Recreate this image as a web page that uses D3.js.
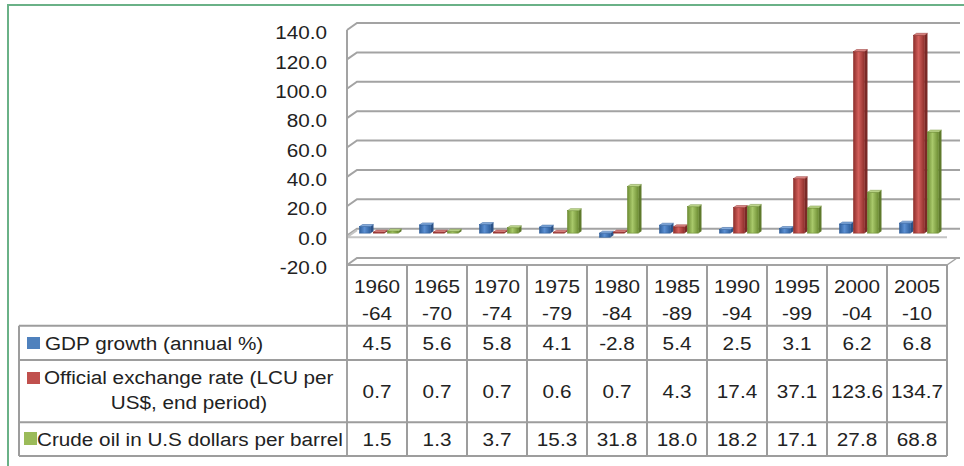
<!DOCTYPE html>
<html>
<head>
<meta charset="utf-8">
<script src="https://cdn.jsdelivr.net/npm/d3@7"></script>
<style>
  body { margin: 0; background: #fff; }
  svg text { font-family: "Liberation Sans", Arial, sans-serif; fill: #222; }
</style>
</head>
<body>
<div id="canvas"></div>
<script>
const width = 964;
const height = 466;

// data
const periodFrom = ["1960", "1965", "1970", "1975", "1980", "1985", "1990", "1995", "2000", "2005"];
const periodTo = ["-64", "-70", "-74", "-79", "-84", "-89", "-94", "-99", "-04", "-10"];
const gdpGrowth = [4.5, 5.6, 5.8, 4.1, -2.8, 5.4, 2.5, 3.1, 6.2, 6.8];
const exchangeRate = [0.7, 0.7, 0.7, 0.6, 0.7, 4.3, 17.4, 37.1, 123.6, 134.7];
const crudeOil = [1.5, 1.3, 3.7, 15.3, 31.8, 18.0, 18.2, 17.1, 27.8, 68.8];
const seriesNames = ["GDP growth (annual %)", "Official exchange rate (LCU per US$, end period)", "Crude oil in U.S dollars per barrel"];
const yTicks = [-20, 0, 20, 40, 60, 80, 100, 120, 140];

const seriesValues = [gdpGrowth, exchangeRate, crudeOil];
const colors = [
    {mid: "#5b8fd2", edge: "#2f5f9c", side: "#2b5288", top: "#86acdc"},
    {mid: "#d25f5b", edge: "#8f2f2c", side: "#7a2926", top: "#de8a87"},
    {mid: "#a9c96b", edge: "#6d8d33", side: "#5f7a2c", top: "#c2da92"}
];

const svg = d3.select("#canvas")
    .append("svg")
    .attr("width", width)
    .attr("height", height);

// 3d offsets
const depthX = 10, depthY = -7;
const barX = 3.5, barY = -2.5, barSide = 3, barSideY = -2;

const x = d3.scaleBand().domain(periodFrom).range([347, 947]);
const xs = d3.scaleBand().domain([0, 1, 2]).range([0, x.bandwidth()]).paddingOuter(0.643);
const y = d3.scaleLinear().domain([-20, 140]).range([265, 30]);
const fmt = v => d3.format(".1f")(v).replace("\u2212", "-");
const gridColor = "#a3a3a3";

// stretched text like the picture
function label(g, tx, ty, str, anchor) {
    return g.append("text")
        .attr("transform", `translate(${tx},${ty}) scale(1.09,1)`)
        .attr("text-anchor", anchor)
        .attr("dominant-baseline", "central")
        .style("font-size", "19px")
        .text(str);
}

// outer green frame
svg.append("path")
    .attr("d", `M8,${height} L8,5 L${width},5`)
    .attr("fill", "none")
    .attr("stroke", "#6ab187")
    .attr("stroke-width", 2);

// back wall gridlines + side wall diagonals
const grid = svg.append("g");
yTicks.forEach(t => {
    grid.append("path")
        .attr("d", `M${x.range()[0]},${y(t)} L${x.range()[0] + depthX},${y(t) + depthY} L${x.range()[1] + depthX + 3},${y(t) + depthY}`)
        .attr("fill", "none")
        .attr("stroke", gridColor)
        .attr("stroke-width", 2);
});

// floor front edge
grid.append("path")
    .attr("d", `M${x.range()[0]},${y(0) + 1.5} L${x.range()[0] + depthX},${y(0) + depthY + 1.5} M${x.range()[0]},${y(0) + 1.5} L${x.range()[1]},${y(0) + 1.5}`)
    .attr("fill", "none")
    .attr("stroke", "#c4c4c4")
    .attr("stroke-width", 2);

// bottom right diagonal
grid.append("line")
    .attr("x1", x.range()[1]).attr("y1", y(-20))
    .attr("x2", x.range()[1] + depthX).attr("y2", y(-20) + depthY)
    .attr("stroke", gridColor).attr("stroke-width", 1.5);

// y axis labels
yTicks.forEach(t => label(svg, 327, y(t) + 2.5, fmt(t), "end"));

// gradients for bar fronts
const defs = svg.append("defs");
colors.forEach((c, i) => {
    const lg = defs.append("linearGradient").attr("id", "bar" + i).attr("x1", "0").attr("x2", "1").attr("y1", "0").attr("y2", "0");
    lg.append("stop").attr("offset", "0").attr("stop-color", c.edge);
    lg.append("stop").attr("offset", "0.45").attr("stop-color", c.mid);
    lg.append("stop").attr("offset", "1").attr("stop-color", c.edge);
});

// bars
const bars = svg.append("g");
periodFrom.forEach((p, i) => {
    seriesValues.forEach((vals, j) => {
        const v = vals[i];
        const c = colors[j];
        const fx = x(p) + xs(j) + barX;
        const fw = xs.bandwidth() - barSide;
        const yTop = Math.min(y(v), y(0)) + barY;
        const yBot = Math.max(y(v), y(0)) + barY;
        const g = bars.append("g");
        // side
        g.append("path")
            .attr("d", `M${fx + fw},${yTop} L${fx + fw + barSide},${yTop + barSideY} L${fx + fw + barSide},${yBot + barSideY} L${fx + fw},${yBot} Z`)
            .attr("fill", c.side);
        // front
        g.append("rect")
            .attr("x", fx).attr("y", yTop)
            .attr("width", fw).attr("height", Math.max(yBot - yTop, 0.5))
            .attr("fill", `url(#bar${j})`)
            .attr("stroke", c.edge).attr("stroke-width", 0.6);
        // top
        g.append("path")
            .attr("d", `M${fx},${yTop} L${fx + barSide},${yTop + barSideY} L${fx + fw + barSide},${yTop + barSideY} L${fx + fw},${yTop} Z`)
            .attr("fill", c.top)
            .attr("stroke", c.edge).attr("stroke-width", 0.5);
    });
});

// data table
const tableColor = "#9d9d9d";
const table = svg.append("g");
const rowLines = [325.7, 360, 422.3, 456];
const rowCenters = [343, 391, 439];

// left vertical axis line (front edge), runs into table
table.append("line")
    .attr("x1", x.range()[0]).attr("y1", y(140))
    .attr("x2", x.range()[0]).attr("y2", 456)
    .attr("stroke", gridColor).attr("stroke-width", 2);

table.append("line")
    .attr("x1", x.range()[0]).attr("y1", y(-20))
    .attr("x2", x.range()[1]).attr("y2", y(-20))
    .attr("stroke", gridColor).attr("stroke-width", 2);

periodFrom.forEach((p, i) => {
    table.append("line")
        .attr("x1", x(p) + x.bandwidth()).attr("y1", y(-20))
        .attr("x2", x(p) + x.bandwidth()).attr("y2", 456)
        .attr("stroke", tableColor).attr("stroke-width", 2);
});

rowLines.forEach(r => {
    table.append("line")
        .attr("x1", 19).attr("y1", r)
        .attr("x2", x.range()[1]).attr("y2", r)
        .attr("stroke", tableColor).attr("stroke-width", 2);
});
table.append("line")
    .attr("x1", 19).attr("y1", rowLines[0])
    .attr("x2", 19).attr("y2", 456)
    .attr("stroke", tableColor).attr("stroke-width", 2);

// category labels
periodFrom.forEach((p, i) => {
    const cx = x(p) + x.bandwidth() / 2;
    label(table, cx, 286, p, "middle");
    label(table, cx, 313, periodTo[i], "middle");
});

// values
seriesValues.forEach((vals, j) => {
    vals.forEach((v, i) => {
        label(table, x(periodFrom[i]) + x.bandwidth() / 2, rowCenters[j], fmt(v), "middle");
    });
});

// legend keys + series names
table.append("rect").attr("x", 27).attr("y", 337).attr("width", 13).attr("height", 12).attr("fill", "#4f81bd");
label(table, 45, 343, seriesNames[0], "start");

table.append("rect").attr("x", 27).attr("y", 372).attr("width", 13).attr("height", 12).attr("fill", "#c0504d");
label(table, 44, 377, "Official exchange rate (LCU per", "start");
label(table, 189, 402, "US$, end period)", "middle");

table.append("rect").attr("x", 24).attr("y", 432).attr("width", 13).attr("height", 13).attr("fill", "#9bbb59");
label(table, 37, 439, seriesNames[2], "start");
</script>
</body>
</html>
